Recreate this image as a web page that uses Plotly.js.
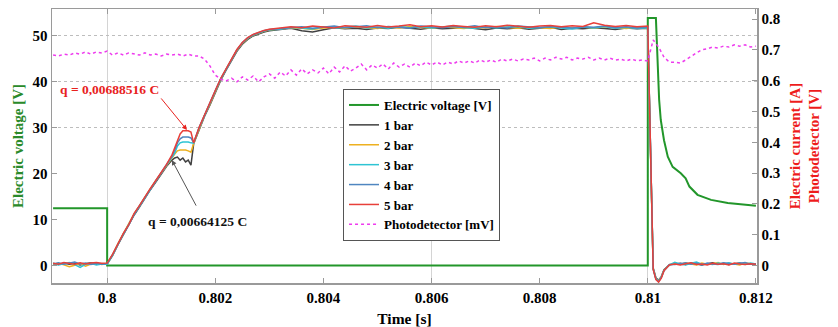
<!DOCTYPE html>
<html>
<head>
<meta charset="utf-8">
<script src="https://cdn.plot.ly/plotly-3.0.1.min.js"></script>
<style>html,body{margin:0;padding:0;background:#fff;}#chart{width:838px;height:327px;}</style>
</head>
<body>
<div id="chart"></div>
<script>
// ---------- DATA ----------
// Electric voltage [V] (left axis)
const tVoltage = [0.799, 0.8, 0.8, 0.81, 0.81, 0.81015, 0.81021, 0.81024, 0.8103, 0.81037, 0.81046, 0.81061, 0.8107, 0.81077, 0.81092, 0.81117, 0.81148, 0.81178, 0.812];
const voltage  = [12.5, 12.5, 0, 0, 53.9, 53.9, 36.1, 31.7, 27.3, 23.7, 21.5, 20.1, 19.0, 17.2, 15.4, 14.3, 13.6, 13.2, 13.0];

// Electric current [A] (right axis), shared time base
const tCurrent = [
0.799,0.7991,0.7992,0.7993,0.7994,0.7995,0.7996,0.7997,0.7998,0.7999,0.8,
0.8001,0.8002,0.8003,0.8004,0.8005,0.8006,0.8007,0.8008,0.8009,0.801,0.8011,
0.8012,0.80125,0.8013,0.80135,0.8014,0.80145,0.8015,0.80155,0.8016,
0.8017,0.8018,0.8019,0.802,0.8021,0.8022,0.8023,0.8024,0.8025,0.8026,0.8027,0.8028,0.8029,0.803,
0.8032,0.8034,0.8036,0.8038,0.804,0.8042,0.8044,0.8046,0.8048,0.805,0.8052,0.8054,0.8056,0.8058,0.806,0.8062,0.8064,0.8066,0.8068,0.807,0.8072,0.8074,0.8076,0.8078,0.808,0.8082,0.8084,0.8086,0.8088,0.809,0.8092,0.8094,0.8096,0.8098,0.81,
0.81005,0.8101,0.81015,0.8102,0.81025,0.8103,0.8104,
0.8105,0.8106,0.8107,0.8108,0.8109,0.811,0.8111,0.8112,0.8113,0.8114,0.8115,0.8116,0.8117,0.8118,0.8119,0.812];

const bar1 = [
0.006,0.003,0.008,0.004,0.007,0.002,0.006,0.009,0.004,0.006,0.005,
0.032,0.068,0.100,0.129,0.164,0.190,0.220,0.246,0.271,0.297,0.322,
0.342,0.349,0.352,0.342,0.349,0.336,0.342,0.326,0.395,
0.442,0.484,0.520,0.562,0.601,0.634,0.666,0.695,0.718,0.734,0.745,0.752,0.758,0.762,
0.766,0.770,0.762,0.758,0.765,0.772,0.768,0.770,0.766,0.771,0.769,0.773,0.770,0.767,0.772,0.768,0.770,0.774,0.769,0.765,0.771,0.768,0.772,0.767,0.770,0.773,0.766,0.770,0.768,0.772,0.769,0.766,0.771,0.768,0.770,
0.36,-0.008,-0.040,-0.048,-0.036,-0.014,0.002,
0.004,0.007,0.003,0.008,0.005,0.002,0.006,0.009,0.004,0.007,0.003,0.006,0.008,0.004,0.006,0.005];

const bar2 = [
0.004,0.007,0.002,-0.004,0.001,0.006,-0.002,0.005,0.008,0.003,0.006,
0.035,0.071,0.103,0.132,0.168,0.194,0.223,0.249,0.275,0.301,0.327,
0.349,0.362,0.372,0.375,0.375,0.375,0.372,0.368,0.396,
0.445,0.487,0.523,0.565,0.604,0.637,0.669,0.698,0.721,0.737,0.747,0.754,0.760,0.764,
0.768,0.772,0.770,0.766,0.771,0.774,0.770,0.775,0.772,0.769,0.774,0.771,0.776,0.772,0.770,0.775,0.772,0.769,0.774,0.771,0.776,0.773,0.770,0.774,0.772,0.769,0.775,0.771,0.774,0.770,0.775,0.772,0.769,0.773,0.771,
0.37,-0.010,-0.042,-0.050,-0.037,-0.015,0.003,
0.007,0.003,0.009,0.005,0.002,0.008,0.004,0.006,0.010,0.003,0.007,0.005,0.002,0.008,0.006,0.004];

const bar3 = [
0.008,0.002,0.006,0.010,0.003,-0.006,0.004,0.007,0.002,0.005,0.004,
0.034,0.069,0.102,0.131,0.166,0.193,0.221,0.248,0.274,0.300,0.326,
0.352,0.365,0.388,0.398,0.401,0.401,0.401,0.398,0.397,
0.446,0.488,0.524,0.566,0.605,0.638,0.670,0.699,0.722,0.738,0.748,0.755,0.761,0.765,
0.767,0.773,0.771,0.768,0.775,0.770,0.773,0.777,0.771,0.774,0.770,0.776,0.772,0.775,0.771,0.774,0.777,0.772,0.770,0.775,0.771,0.774,0.776,0.770,0.773,0.775,0.771,0.768,0.774,0.771,0.776,0.770,0.773,0.769,0.772,
0.38,-0.011,-0.043,-0.051,-0.038,-0.016,0.002,
0.010,0.005,0.002,0.007,0.011,0.004,0.006,0.003,0.008,0.005,0.009,0.004,0.007,0.003,0.008,0.005];

const bar4 = [
0.005,0.009,0.004,0.007,0.011,0.005,0.008,0.003,0.007,0.004,0.006,
0.035,0.070,0.103,0.132,0.167,0.194,0.222,0.249,0.275,0.301,0.327,
0.355,0.375,0.398,0.411,0.417,0.417,0.417,0.414,0.398,
0.447,0.489,0.525,0.567,0.606,0.639,0.671,0.700,0.723,0.739,0.749,0.756,0.762,0.766,
0.769,0.771,0.775,0.770,0.773,0.777,0.772,0.774,0.778,0.772,0.776,0.773,0.771,0.777,0.774,0.772,0.776,0.773,0.778,0.772,0.775,0.771,0.777,0.774,0.772,0.776,0.774,0.771,0.775,0.773,0.777,0.772,0.775,0.771,0.774,
0.39,-0.012,-0.044,-0.052,-0.039,-0.016,0.003,
0.003,0.006,0.009,0.004,0.007,0.002,0.008,0.005,0.003,0.009,0.006,0.004,0.007,0.010,0.004,0.006];

const bar5 = [
0.007,0.004,0.010,0.006,0.004,0.009,0.005,0.008,0.010,0.007,0.008,
0.036,0.072,0.104,0.133,0.169,0.195,0.224,0.250,0.276,0.302,0.328,
0.359,0.381,0.407,0.427,0.437,0.437,0.437,0.433,0.398,
0.448,0.490,0.526,0.568,0.607,0.640,0.672,0.701,0.724,0.740,0.750,0.757,0.763,0.767,
0.770,0.775,0.772,0.777,0.774,0.771,0.778,0.775,0.773,0.779,0.774,0.777,0.781,0.775,0.778,0.774,0.779,0.776,0.773,0.778,0.775,0.780,0.776,0.773,0.777,0.779,0.775,0.778,0.776,0.788,0.780,0.776,0.779,0.775,0.777,
0.40,-0.013,-0.046,-0.054,-0.041,-0.017,0.002,
0.005,0.002,0.006,0.009,0.003,0.005,0.002,0.007,0.004,0.006,0.002,0.008,0.005,0.003,0.006,0.004];

// Photodetector (right axis)
const tPhoto = [
0.799,0.7991,0.7992,0.7993,0.7994,0.7995,0.7996,0.7997,0.7998,0.7999,0.8,
0.8001,0.8002,0.8003,0.8004,0.8005,0.8006,0.8007,0.8008,0.8009,0.801,
0.8011,0.8012,0.8013,0.8014,0.8015,0.8016,0.8017,0.8018,0.8019,0.802,
0.8021,0.8022,0.8023,0.8024,0.8025,0.8026,0.8027,0.8028,0.8029,0.803,
0.8031,0.8032,0.8033,0.8034,0.8035,0.8036,0.8037,0.8038,0.8039,0.804,
0.8041,0.8042,0.8043,0.8044,0.8045,0.8046,0.8047,0.8048,0.8049,0.805,
0.8051,0.8052,0.8053,0.8054,0.8055,0.8056,0.8057,0.8058,0.8059,0.806,
0.8061,0.8062,0.8063,0.8064,0.8065,0.8066,0.8067,0.8068,0.8069,0.807,
0.8071,0.8072,0.8073,0.8074,0.8075,0.8076,0.8077,0.8078,0.8079,0.808,
0.8081,0.8082,0.8083,0.8084,0.8085,0.8086,0.8087,0.8088,0.8089,0.809,
0.8091,0.8092,0.8093,0.8094,0.8095,0.8096,0.8097,0.8098,0.8099,0.81,
0.8101,0.8102,0.8103,0.8104,0.8105,0.8106,0.8107,0.8108,0.8109,0.811,
0.8111,0.8112,0.8113,0.8114,0.8115,0.8116,0.8117,0.8118,0.8119,0.812];
const photo = [
0.683,0.680,0.686,0.683,0.690,0.686,0.693,0.686,0.693,0.690,0.696,
0.683,0.690,0.683,0.690,0.686,0.683,0.690,0.683,0.686,0.680,
0.686,0.683,0.686,0.680,0.686,0.680,0.680,0.670,0.648,0.618,
0.605,0.599,0.608,0.596,0.612,0.602,0.615,0.596,0.612,0.622,
0.608,0.628,0.615,0.635,0.618,0.638,0.622,0.635,0.625,0.641,
0.622,0.644,0.628,0.648,0.631,0.641,0.654,0.635,0.651,0.641,
0.654,0.638,0.657,0.644,0.654,0.644,0.657,0.648,0.660,0.651,
0.660,0.651,0.660,0.654,0.664,0.657,0.664,0.657,0.667,0.660,
0.667,0.660,0.670,0.664,0.670,0.664,0.670,0.667,0.673,0.664,
0.673,0.667,0.676,0.670,0.676,0.667,0.673,0.670,0.676,0.667,
0.673,0.667,0.673,0.667,0.670,0.664,0.670,0.664,0.667,0.664,
0.732,0.709,0.676,0.660,0.660,0.657,0.667,0.680,0.690,0.700,
0.703,0.709,0.706,0.712,0.709,0.716,0.712,0.716,0.709,0.712];

// Ticks / labels
const xTickVals = [0.8, 0.802, 0.804, 0.806, 0.808, 0.81, 0.812];
const xTickText = ['0.8', '0.802', '0.804', '0.806', '0.808', '0.81', '0.812'];
const xGridVals = [0.8, 0.806, 0.81];
const yLeftTicks = [0, 10, 20, 30, 40, 50];
const yLeftGrid = [30, 40, 50];
const yRightTicks = [0, 0.1, 0.2, 0.3, 0.4, 0.5, 0.6, 0.7, 0.8];
const yRightText = ['0', '0.1', '0.2', '0.3', '0.4', '0.5', '0.6', '0.7', '0.8'];

// Annotations (charge values)
const qHigh = {text: 'q = 0,00688516 C', t: 0.801476, i: 0.440};
const qLow  = {text: 'q = 0,00664125 C', t: 0.801198, i: 0.342};

// ---------- STYLE ----------
const FONT = '"Liberation Serif", "Times New Roman", Times, serif';
const xRange = [0.79898, 0.81202];
const yLeftRange = [-3.81, 55.88];
const yRightRange = [-0.0568, 0.8325];
const AX = '#9a9a9a';

const traces = [
  {x: [], y: [], xaxis: 'x', yaxis: 'y', showlegend: false, hoverinfo: 'skip', type: 'scatter'},
  {x: tVoltage, y: voltage, name: 'Electric voltage [V]', xaxis: 'x2', yaxis: 'y2', type: 'scatter', mode: 'lines', line: {color: '#22962a', width: 2}},
  {x: tCurrent, y: bar1, name: '1 bar', xaxis: 'x2', yaxis: 'y3', type: 'scatter', mode: 'lines', line: {color: '#404040', width: 1.5}},
  {x: tCurrent, y: bar2, name: '2 bar', xaxis: 'x2', yaxis: 'y3', type: 'scatter', mode: 'lines', line: {color: '#EDB120', width: 1.5}},
  {x: tCurrent, y: bar3, name: '3 bar', xaxis: 'x2', yaxis: 'y3', type: 'scatter', mode: 'lines', line: {color: '#2ec4d4', width: 1.5}},
  {x: tCurrent, y: bar4, name: '4 bar', xaxis: 'x2', yaxis: 'y3', type: 'scatter', mode: 'lines', line: {color: '#4f86c0', width: 1.5}},
  {x: tCurrent, y: bar5, name: '5 bar', xaxis: 'x2', yaxis: 'y3', type: 'scatter', mode: 'lines', line: {color: '#e8403a', width: 1.5}},
  {x: tPhoto, y: photo, name: 'Photodetector [mV]', xaxis: 'x2', yaxis: 'y3', type: 'scatter', mode: 'lines', line: {color: '#ee3cee', width: 1.5, dash: 'dot'}}
];

const layout = {
  width: 838, height: 327,
  margin: {l: 52, r: 81, t: 9, b: 44},
  paper_bgcolor: '#ffffff', plot_bgcolor: '#ffffff',
  font: {family: FONT, size: 14, color: '#000', weight: 'bold'},
  hovermode: false,
  showlegend: true,
  legend: {x: 0.4128, y: 0.708, xanchor: 'left', yanchor: 'top', bgcolor: '#ffffff',
           bordercolor: '#555', borderwidth: 1, font: {family: FONT, size: 13, weight: 'bold', color: '#000'},
           tracegroupgap: 0},
  xaxis: {range: xRange, tickmode: 'array', tickvals: xGridVals, showgrid: true, gridcolor: '#d4d4d4', gridwidth: 1,
          showticklabels: false, ticks: '', zeroline: false, showline: false},
  yaxis: {range: yLeftRange, tickmode: 'array', tickvals: yLeftGrid, showgrid: true, gridcolor: '#bdbdbd', griddash: 'dot', gridwidth: 1,
          showticklabels: false, ticks: '', zeroline: false, showline: false},
  xaxis2: {overlaying: 'x', anchor: 'y', range: xRange, tickmode: 'array', tickvals: xTickVals, ticktext: xTickText,
           ticks: 'inside', ticklen: 5, tickwidth: 1, tickcolor: AX, showline: true, linecolor: AX, linewidth: 1.5,
           mirror: 'ticks', showgrid: false, zeroline: false,
           tickfont: {family: FONT, size: 15, weight: 'bold', color: '#000'},
           title: {text: 'Time [s]', font: {family: FONT, size: 15.5, weight: 'bold', color: '#000'}, standoff: 8}},
  yaxis2: {overlaying: 'y', anchor: 'x', side: 'left', range: yLeftRange, tickmode: 'array', tickvals: yLeftTicks,
           ticks: 'inside', ticklen: 5, tickwidth: 1, tickcolor: AX, showline: true, linecolor: AX, linewidth: 1.5,
           showgrid: false, zeroline: false,
           tickfont: {family: FONT, size: 15, weight: 'bold', color: '#000'},
           title: {text: 'Electric voltage [V]', font: {family: FONT, size: 15, weight: 'bold', color: '#2a8a2a'}, standoff: 5}},
  yaxis3: {overlaying: 'y', anchor: 'x', side: 'right', range: yRightRange, tickmode: 'array', tickvals: yRightTicks, ticktext: yRightText,
           ticks: 'inside', ticklen: 5, tickwidth: 1, tickcolor: AX, showline: true, linecolor: AX, linewidth: 1.5,
           showgrid: false, zeroline: false,
           tickfont: {family: FONT, size: 15, weight: 'bold', color: '#000'},
           title: {text: 'Electric current [A]<br>Photodetector [V]', font: {family: FONT, size: 15, weight: 'bold', color: '#ee1c1c'}, standoff: 9}},
  annotations: [
    {xref: 'paper', yref: 'paper', x: 0.0816, y: 0.708, xanchor: 'center', yanchor: 'middle', showarrow: false,
     text: qHigh.text, font: {family: FONT, size: 13.5, weight: 'bold', color: '#e8221e'}},
    {xref: 'x2', yref: 'y3', x: qHigh.t, y: qHigh.i, ax: -27, ay: -33, text: '', showarrow: true,
     arrowcolor: '#e8221e', arrowwidth: 1, arrowhead: 2, arrowsize: 1},
    {xref: 'paper', yref: 'paper', x: 0.2064, y: 0.2237, xanchor: 'center', yanchor: 'middle', showarrow: false,
     text: qLow.text, font: {family: FONT, size: 13.5, weight: 'bold', color: '#111'}},
    {xref: 'x2', yref: 'y3', x: qLow.t, y: qLow.i, ax: 25, ay: 47, text: '', showarrow: true,
     arrowcolor: '#555', arrowwidth: 1, arrowhead: 2, arrowsize: 1}
  ]
};

Plotly.newPlot('chart', traces, layout, {staticPlot: true, displayModeBar: false});
</script>
</body>
</html>
